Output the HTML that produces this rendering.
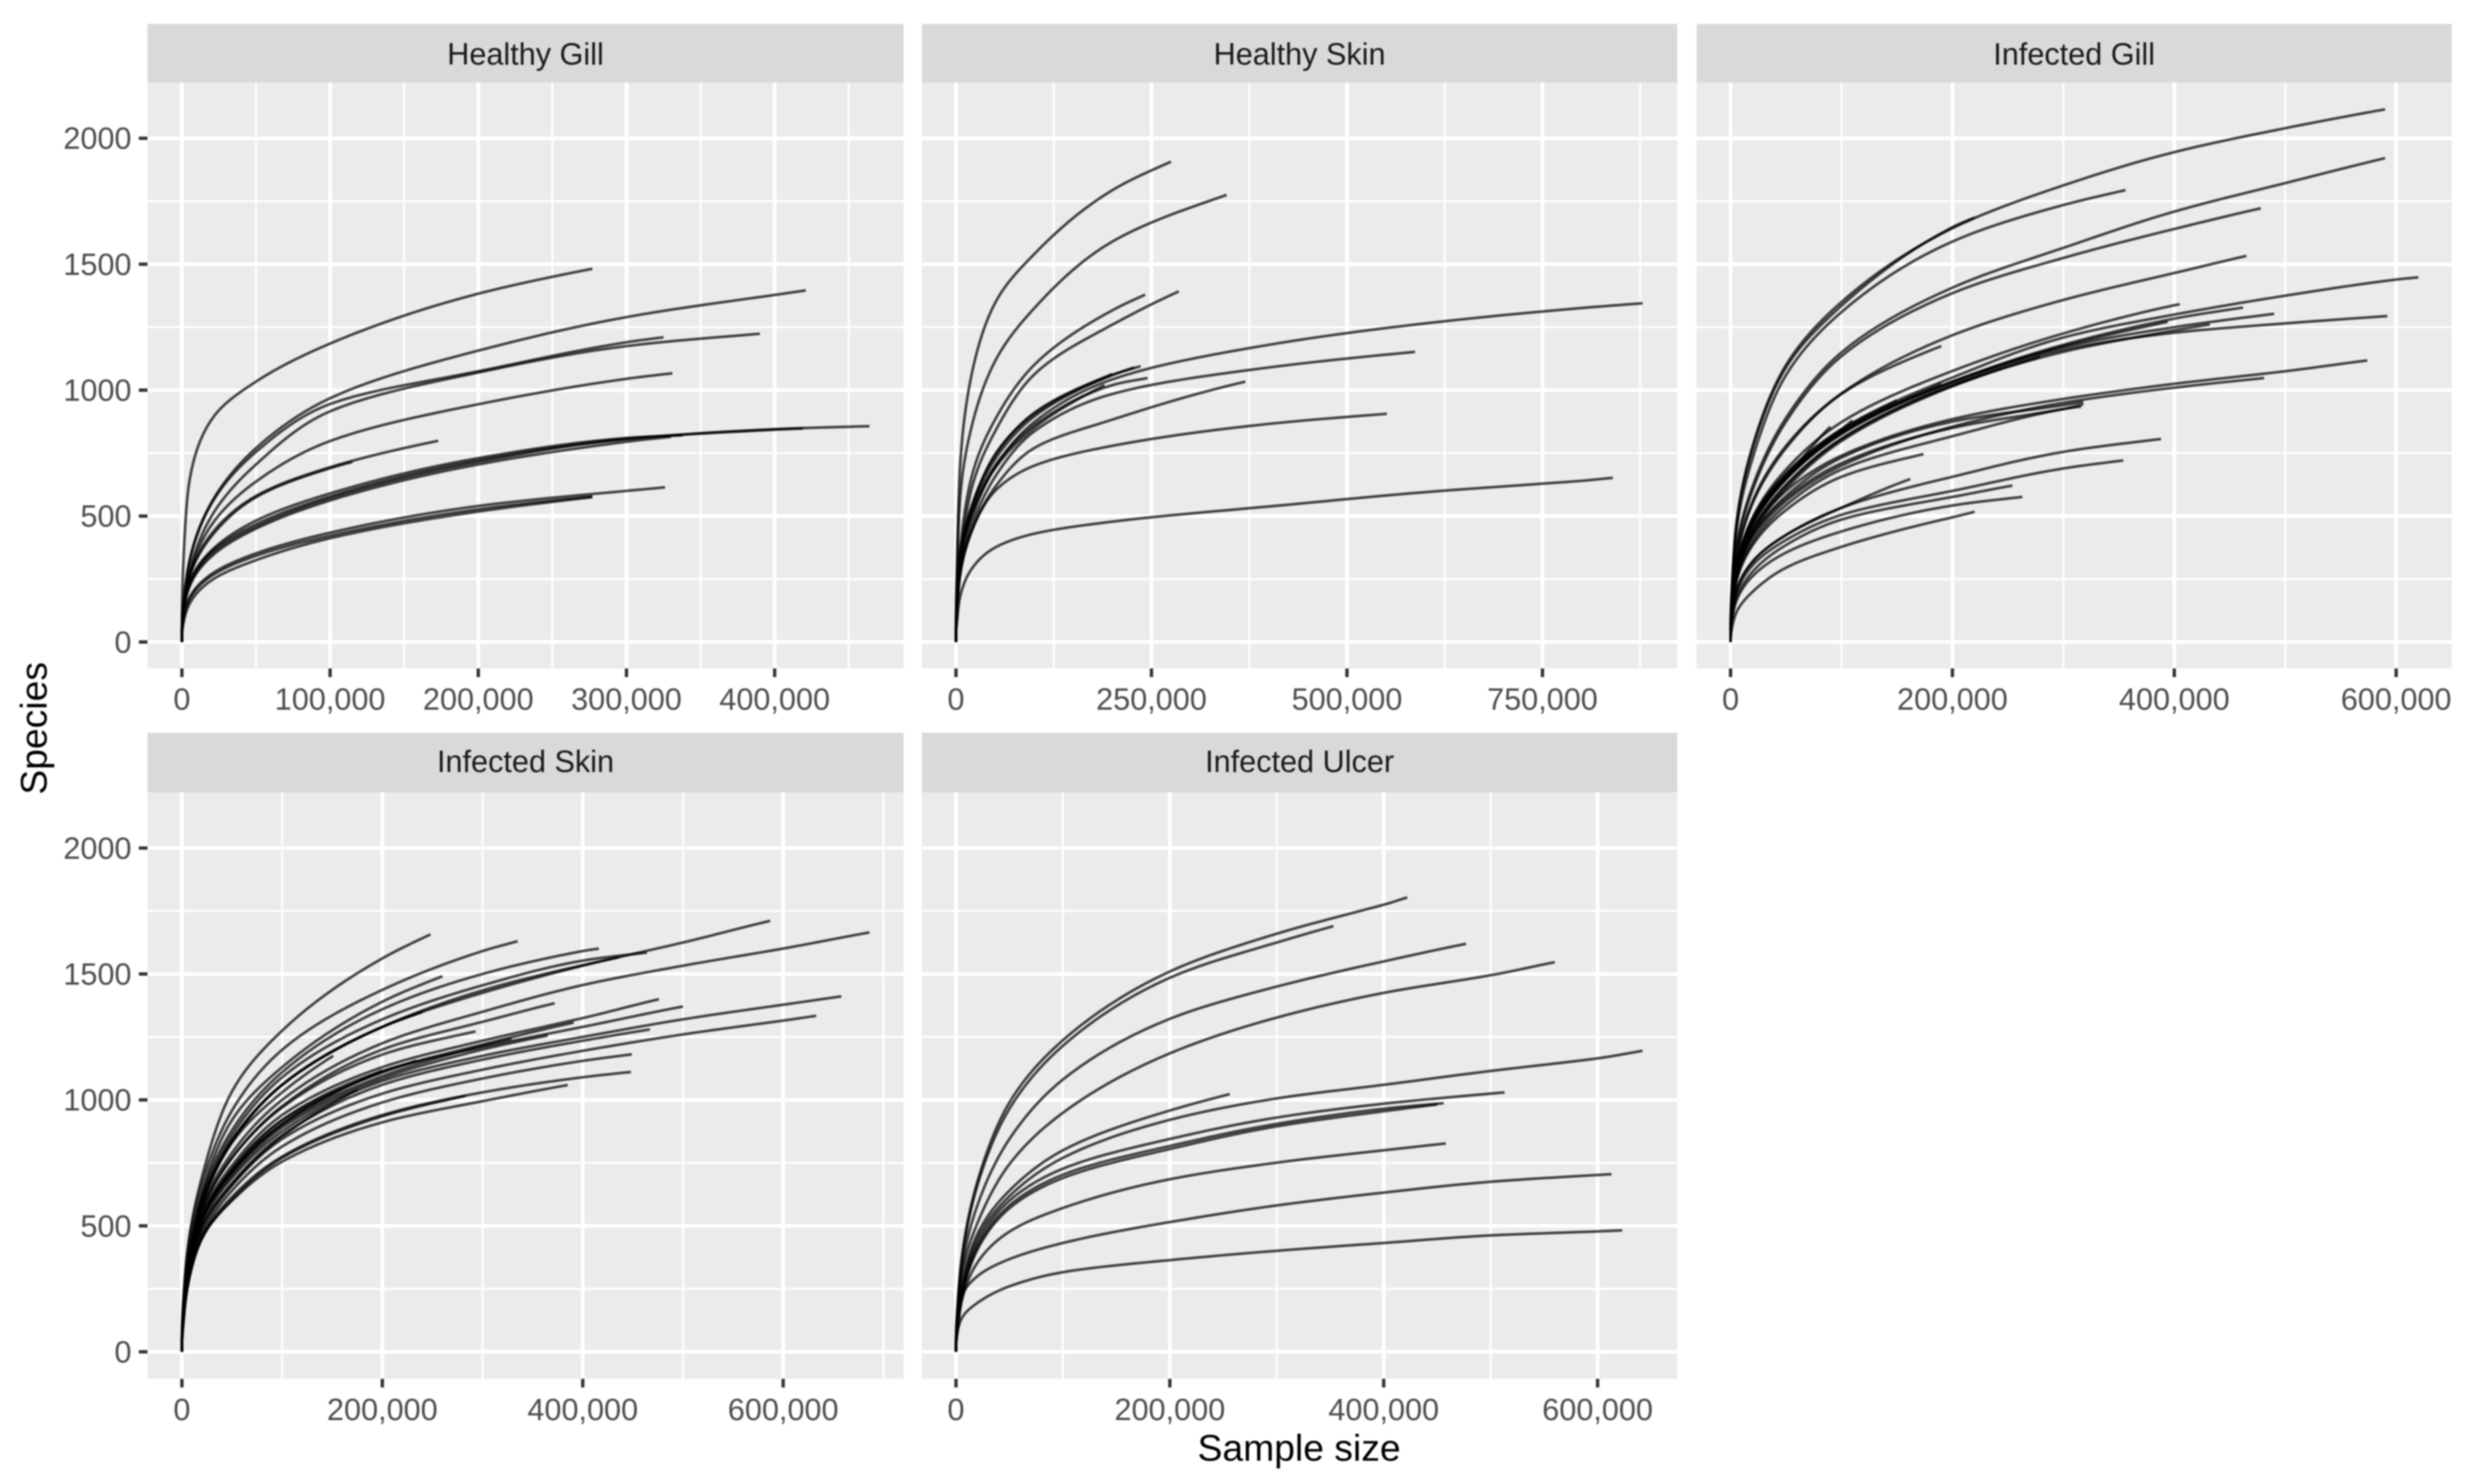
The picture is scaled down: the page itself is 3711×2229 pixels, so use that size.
<!DOCTYPE html>
<html lang="en">
<head>
<meta charset="utf-8">
<title>Rarefaction curves by sample type</title>
<style>
html,body{margin:0;padding:0;background:#fff;width:3711px;height:2229px;overflow:hidden}
svg{display:block;filter:blur(1.1px)}
text{font-family:"Liberation Sans",sans-serif}
</style>
</head>
<body>
<svg id="chart" xmlns="http://www.w3.org/2000/svg" width="3711" height="2229" viewBox="0 0 3711 2229">
<rect width="3711" height="2229" fill="#fff"/>
<text x="1951" y="2194" font-size="56" text-anchor="middle" fill="#000">Sample size</text>
<text transform="translate(70,1094) rotate(-90)" font-size="56" text-anchor="middle" fill="#000">Species</text>
</svg>
<script>
// ---------- shared y axis ----------
const yTickValues = [0, 500, 1000, 1500, 2000];
const yMinorValues = [250, 750, 1250, 1750];

// ---------- Healthy Gill ----------
const hgTicks = [0, 100000, 200000, 300000, 400000];
const hgMinor = [50000, 150000, 250000, 350000, 450000];
const hgGrid = [0, 1000, 5000, 20000, 50000, 100000, 200000, 300000, 400000];
const hgEnds = [277000, 421000, 325000, 390000, 331000, 173000, 115000, 464000, 419000, 338000, 330000, 326000, 277000, 277000];
const hg01 = [0, 320, 637, 883, 1034, 1185, 1383, 1482];
const hg02 = [0, 150, 320, 555, 770, 968, 1157, 1290, 1378, 1396];
const hg03 = [0, 150, 315, 550, 755, 945, 1075, 1190, 1210];
const hg04 = [0, 125, 275, 500, 705, 916, 1070, 1175, 1224];
const hg05 = [0, 125, 265, 465, 637, 798, 944, 1045, 1067];
const hg06 = [0, 125, 258, 430, 580, 694, 799];
const hg07 = [0, 125, 255, 420, 575, 690, 715];
const hg08 = [0, 120, 225, 350, 458, 571, 715, 805, 845, 857];
const hg09 = [0, 122, 230, 358, 468, 578, 722, 807, 843, 848];
const hg10 = [0, 125, 235, 364, 482, 590, 730, 810, 821];
const hg11 = [0, 115, 218, 340, 450, 562, 705, 795, 815];
const hg12 = [0, 95, 175, 270, 352, 434, 540, 600, 614];
const hg13 = [0, 90, 168, 262, 342, 422, 527, 578];
const hg14 = [0, 75, 150, 245, 325, 412, 518, 575];
const hgSeries = [hg01, hg02, hg03, hg04, hg05, hg06, hg07, hg08, hg09, hg10, hg11, hg12, hg13, hg14];

// ---------- Healthy Skin ----------
const hsTicks = [0, 250000, 500000, 750000];
const hsMinor = [125000, 375000, 625000, 875000];
const hsGrid = [0, 1000, 5000, 20000, 50000, 100000, 200000, 400000, 600000, 800000];
const hsEnds = [275000, 346000, 242000, 285000, 878000, 587000, 370000, 551000, 840000, 236000, 245000, 200000, 190000, 228000];
const hs01 = [0, 260, 685, 1062, 1346, 1540, 1794, 1907];
const hs02 = [0, 220, 560, 855, 1115, 1325, 1590, 1775];
const hs03 = [0, 140, 354, 656, 883, 1100, 1317, 1379];
const hs04 = [0, 130, 307, 609, 836, 1062, 1260, 1392];
const hs05 = [0, 120, 278, 486, 694, 873, 1043, 1180, 1265, 1326, 1345];
const hs06 = [0, 110, 269, 458, 656, 836, 985, 1090, 1152];
const hs07 = [0, 105, 260, 439, 615, 770, 883, 1034];
const hs08 = [0, 110, 260, 440, 600, 700, 779, 866, 906];
const hs09 = [0, 70, 175, 290, 375, 430, 478, 538, 595, 640, 652];
const hs10 = [0, 120, 320, 530, 745, 905, 1060, 1095];
const hs11 = [0, 110, 310, 510, 700, 860, 1020, 1048];
const hs12 = [0, 125, 340, 540, 740, 910, 1064];
const hs13 = [0, 110, 310, 505, 690, 850, 1020];
const hs14 = [0, 120, 325, 530, 725, 895, 1060, 1090];
const hsSeries = [hs01, hs02, hs03, hs04, hs05, hs06, hs07, hs08, hs09, hs10, hs11, hs12, hs13, hs14];

// ---------- Infected Gill ----------
const igTicks = [0, 200000, 400000, 600000];
const igMinor = [100000, 300000, 500000];
const igGrid = [0, 1000, 5000, 20000, 50000, 100000, 200000, 300000, 400000, 500000, 600000];
const igEnds = [590000, 220000, 356000, 590000, 478000, 465000, 190000, 620000, 405000, 462000, 490000, 592000, 394000, 432000, 279000, 90000, 481000, 574000, 318000, 316000, 318000, 174000, 388000, 354000, 162000, 254000, 263000, 220000, 190000, 150000, 110000];
const ig01 = [0, 200, 460, 780, 1100, 1350, 1643, 1813, 1945, 2040, 2115];
const ig02 = [0, 190, 450, 770, 1090, 1335, 1647, 1685];
const ig03 = [0, 180, 430, 732, 1060, 1310, 1590, 1735, 1794];
const ig04 = [0, 160, 365, 620, 890, 1150, 1407, 1565, 1709, 1822, 1921];
const ig05 = [0, 155, 355, 605, 875, 1135, 1385, 1525, 1640, 1722];
const ig06 = [0, 150, 325, 560, 779, 987, 1218, 1358, 1465, 1533];
const ig07 = [0, 150, 320, 552, 770, 985, 1175];
const ig08 = [0, 130, 290, 490, 670, 845, 1050, 1209, 1300, 1375, 1439, 1448];
const ig09 = [0, 135, 290, 495, 685, 873, 1076, 1225, 1337, 1341];
const ig10 = [0, 130, 280, 475, 656, 836, 1034, 1180, 1284, 1328];
const ig11 = [0, 128, 275, 468, 645, 825, 1030, 1170, 1250, 1303];
const ig12 = [0, 125, 268, 450, 625, 808, 1020, 1160, 1228, 1265, 1294];
const ig13 = [0, 128, 278, 472, 650, 830, 1034, 1175, 1271];
const ig14 = [0, 122, 262, 445, 620, 805, 1018, 1152, 1237, 1261];
const ig15 = [0, 120, 255, 435, 609, 798, 1015, 1133];
const ig16 = [0, 128, 278, 472, 650, 855];
const ig17 = [0, 120, 250, 410, 560, 700, 855, 950, 1010, 1048];
const ig18 = [0, 128, 270, 440, 600, 740, 885, 965, 1025, 1075, 1118];
const ig19 = [0, 122, 260, 425, 570, 710, 850, 925, 944];
const ig20 = [0, 112, 240, 395, 543, 685, 817, 925, 935];
const ig21 = [0, 122, 258, 425, 580, 732, 875, 940, 954];
const ig22 = [0, 110, 235, 385, 524, 656, 746];
const ig23 = [0, 100, 200, 320, 425, 533, 656, 755, 806];
const ig24 = [0, 95, 190, 305, 405, 505, 600, 689, 721];
const ig25 = [0, 100, 200, 320, 425, 533, 647];
const ig26 = [0, 85, 170, 280, 385, 486, 576, 621];
const ig27 = [0, 80, 160, 262, 355, 439, 542, 576];
const ig28 = [0, 50, 115, 200, 295, 378, 495, 517];
const ig29 = [0, 130, 280, 475, 650, 830, 1025];
const ig30 = [0, 130, 285, 482, 660, 840, 960];
const ig31 = [0, 132, 290, 490, 665, 845, 880];
const igSeries = [ig01, ig02, ig03, ig04, ig05, ig06, ig07, ig08, ig09, ig10, ig11, ig12, ig13, ig14, ig15, ig16, ig17, ig18, ig19, ig20, ig21, ig22, ig23, ig24, ig25, ig26, ig27, ig28, ig29, ig30, ig31];

// ---------- Infected Skin ----------
const isTicks = [0, 200000, 400000, 600000];
const isMinor = [100000, 300000, 500000, 700000];
const isGrid = [0, 1000, 5000, 20000, 50000, 100000, 200000, 300000, 400000, 500000, 600000];
const isEnds = [248000, 335000, 260000, 587000, 416000, 464000, 436000, 686000, 372000, 476000, 504000, 391000, 365000, 658000, 633000, 467000, 449000, 448000, 385000, 283000, 240000, 234000, 175000, 293000, 151000, 204000, 329000];
const is01 = [0, 170, 385, 694, 1034, 1275, 1562, 1657];
const is02 = [0, 165, 370, 666, 958, 1199, 1437, 1591, 1630];
const is03 = [0, 130, 320, 630, 920, 1130, 1390, 1491];
const is04 = [0, 120, 305, 590, 835, 1060, 1290, 1425, 1533, 1625, 1711];
const is05 = [0, 125, 315, 620, 880, 1110, 1360, 1500, 1591, 1601];
const is06 = [0, 120, 310, 605, 860, 1090, 1320, 1455, 1553, 1585];
const is07 = [0, 120, 305, 595, 840, 1060, 1290, 1435, 1535, 1566];
const is08 = [0, 115, 290, 570, 790, 1000, 1225, 1350, 1456, 1533, 1601, 1665];
const is09 = [0, 115, 290, 560, 770, 975, 1200, 1310, 1384];
const is10 = [0, 110, 285, 545, 740, 940, 1130, 1235, 1325, 1400];
const is11 = [0, 110, 280, 535, 725, 920, 1115, 1210, 1290, 1371];
const is12 = [0, 110, 280, 530, 715, 905, 1110, 1220, 1307];
const is13 = [0, 110, 275, 520, 700, 890, 1085, 1200, 1256];
const is14 = [0, 105, 270, 510, 690, 875, 1075, 1175, 1250, 1320, 1378, 1411];
const is15 = [0, 105, 265, 480, 660, 845, 1025, 1120, 1195, 1260, 1315, 1334];
const is16 = [0, 105, 270, 495, 670, 860, 1060, 1160, 1235, 1280];
const is17 = [0, 100, 255, 465, 640, 815, 990, 1085, 1155, 1181];
const is18 = [0, 95, 248, 455, 615, 775, 940, 1030, 1090, 1111];
const is19 = [0, 95, 241, 449, 600, 755, 911, 995, 1059];
const is20 = [0, 95, 245, 452, 605, 770, 935, 1016];
const is21 = [0, 120, 305, 595, 840, 1060, 1290, 1349];
const is22 = [0, 110, 280, 530, 725, 920, 1110, 1156];
const is23 = [0, 105, 270, 495, 665, 855, 1040];
const is24 = [0, 115, 290, 560, 770, 970, 1180, 1272];
const is25 = [0, 115, 300, 580, 830, 1030, 1175];
const is26 = [0, 110, 280, 530, 715, 905, 1117];
const is27 = [0, 110, 280, 525, 710, 900, 1095, 1215, 1243];
const isSeries = [is01, is02, is03, is04, is05, is06, is07, is08, is09, is10, is11, is12, is13, is14, is15, is16, is17, is18, is19, is20, is21, is22, is23, is24, is25, is26, is27];

// ---------- Infected Ulcer ----------
const iuTicks = [0, 200000, 400000, 600000];
const iuMinor = [100000, 300000, 500000];
const iuGrid = [0, 1000, 5000, 20000, 50000, 100000, 200000, 300000, 400000, 500000, 600000];
const iuEnds = [422000, 353000, 477000, 560000, 642000, 256000, 513000, 456000, 450000, 458000, 613000, 623000];
const iu01 = [0, 150, 360, 675, 990, 1237, 1510, 1660, 1775, 1804];
const iu02 = [0, 140, 345, 660, 965, 1215, 1485, 1625, 1690];
const iu03 = [0, 110, 316, 581, 845, 1081, 1322, 1450, 1550, 1620];
const iu04 = [0, 115, 295, 510, 745, 949, 1185, 1327, 1425, 1495, 1547];
const iu05 = [0, 85, 231, 449, 618, 770, 921, 1006, 1060, 1115, 1165, 1195];
const iu06 = [0, 90, 250, 467, 640, 800, 958, 1023];
const iu07 = [0, 80, 222, 430, 600, 727, 845, 930, 985, 1025, 1030];
const iu08 = [0, 78, 212, 415, 581, 703, 817, 905, 965, 987];
const iu09 = [0, 75, 205, 405, 570, 690, 805, 895, 955, 982];
const iu10 = [0, 65, 194, 354, 477, 571, 685, 751, 800, 827];
const iu11 = [0, 110, 215, 300, 368, 432, 515, 581, 632, 675, 702, 705];
const iu12 = [0, 70, 130, 194, 260, 316, 364, 401, 432, 462, 478, 482];
const iuSeries = [iu01, iu02, iu03, iu04, iu05, iu06, iu07, iu08, iu09, iu10, iu11, iu12];

// ---------- layout ----------
const row1 = {top: 36, stripBottom: 124, bottom: 1004, zero: 964.3, labelDy: 17};
const row2 = {top: 1100.5, stripBottom: 1190, bottom: 2071, zero: 2030.4, labelDy: 14};
const yPxPerUnit = 0.3783;
const warpPower = 0.35;

const facets = [
  {key: 'healthy-gill', title: 'Healthy Gill', left: 221.5, right: 1357, x0: 273.2, pxPerUnit: 222.55 / 100000, row: row1, yLabels: true, ticks: hgTicks, minor: hgMinor, grid: hgGrid, ends: hgEnds, series: hgSeries},
  {key: 'healthy-skin', title: 'Healthy Skin', left: 1384.5, right: 2519, x0: 1435.7, pxPerUnit: 293.6 / 250000, row: row1, yLabels: false, ticks: hsTicks, minor: hsMinor, grid: hsGrid, ends: hsEnds, series: hsSeries},
  {key: 'infected-gill', title: 'Infected Gill', left: 2548, right: 3682, x0: 2599, pxPerUnit: 333.2 / 200000, row: row1, yLabels: false, ticks: igTicks, minor: igMinor, grid: igGrid, ends: igEnds, series: igSeries},
  {key: 'infected-skin', title: 'Infected Skin', left: 221.5, right: 1357, x0: 273.2, pxPerUnit: 150.5 / 100000, row: row2, yLabels: true, ticks: isTicks, minor: isMinor, grid: isGrid, ends: isEnds, series: isSeries},
  {key: 'infected-ulcer', title: 'Infected Ulcer', left: 1384.5, right: 2519, x0: 1435.7, pxPerUnit: 160.6 / 100000, row: row2, yLabels: false, ticks: iuTicks, minor: iuMinor, grid: iuGrid, ends: iuEnds, series: iuSeries}
];

const NS = 'http://www.w3.org/2000/svg';
const chart = document.getElementById('chart');

function make(tag, parent, attrs, content) {
  const el = document.createElementNS(NS, tag);
  for (const k in attrs) el.setAttribute(k, attrs[k]);
  if (content !== undefined) el.textContent = content;
  parent.appendChild(el);
  return el;
}

// Monotone Hermite spline through the read points, taken in a warped
// sample-size coordinate so the steep start of each curve stays smooth.
function curvePath(xs, ys, xScale, yScale) {
  const n = xs.length;
  const u = xs.map(function (x) { return Math.pow(x, warpPower); });
  const d = [];
  for (let i = 0; i < n - 1; i++) d.push((ys[i + 1] - ys[i]) / (u[i + 1] - u[i]));
  const m = new Array(n);
  m[0] = d[0];
  m[n - 1] = d[n - 2];
  for (let i = 1; i < n - 1; i++) {
    const h0 = u[i] - u[i - 1];
    const h1 = u[i + 1] - u[i];
    m[i] = d[i - 1] * d[i] <= 0 ? 0 : (h0 + h1) * 3 * d[i - 1] * d[i] / ((2 * h1 + h0) * d[i - 1] + (h1 + 2 * h0) * d[i]);
  }
  let s = 'M' + xScale(xs[0]).toFixed(2) + ',' + yScale(ys[0]).toFixed(2);
  for (let i = 0; i < n - 1; i++) {
    const h = u[i + 1] - u[i];
    for (let k = 1; k <= 10; k++) {
      const t = k / 10;
      const t2 = t * t;
      const t3 = t2 * t;
      const y = (2 * t3 - 3 * t2 + 1) * ys[i] + (t3 - 2 * t2 + t) * h * m[i] + (-2 * t3 + 3 * t2) * ys[i + 1] + (t3 - t2) * h * m[i + 1];
      const x = Math.pow(u[i] + t * h, 1 / warpPower);
      s += 'L' + xScale(x).toFixed(2) + ',' + yScale(y).toFixed(2);
    }
  }
  return s;
}

facets.forEach(function (f) {
  const xScale = function (v) { return f.x0 + v * f.pxPerUnit; };
  const yScale = function (v) { return f.row.zero - v * yPxPerUnit; };

  const g = make('g', chart, {});
  
  

  const strip = make('rect', g, {x: f.left, y: f.row.top, width: f.right - f.left, height: f.row.stripBottom - f.row.top, fill: '#D9D9D9'});
  
  

  const stripLabel = make('text', g, {x: (f.left + f.right) / 2, y: (f.row.top + f.row.stripBottom) / 2 + f.row.labelDy, 'font-size': 46, 'text-anchor': 'middle', fill: '#1A1A1A'}, f.title);
  
  

  const panel = make('rect', g, {x: f.left, y: f.row.stripBottom, width: f.right - f.left, height: f.row.bottom - f.row.stripBottom, fill: '#EBEBEB'});
  
  

  yMinorValues.forEach(function (v) {
    const l = make('line', g, {x1: f.left, x2: f.right, y1: yScale(v), y2: yScale(v), stroke: '#fff', 'stroke-width': 3});
    
    
  });
  f.minor.forEach(function (v) {
    const l = make('line', g, {x1: xScale(v), x2: xScale(v), y1: f.row.stripBottom, y2: f.row.bottom, stroke: '#fff', 'stroke-width': 3});
    
    
  });
  yTickValues.forEach(function (v) {
    const l = make('line', g, {x1: f.left, x2: f.right, y1: yScale(v), y2: yScale(v), stroke: '#fff', 'stroke-width': 5.5});
    
    
  });
  f.ticks.forEach(function (v) {
    const l = make('line', g, {x1: xScale(v), x2: xScale(v), y1: f.row.stripBottom, y2: f.row.bottom, stroke: '#fff', 'stroke-width': 5.5});
    
    
  });

  f.series.forEach(function (ys, i) {
    const xs = f.grid.filter(function (v) { return v < f.ends[i]; }).concat([f.ends[i]]);
    const n = Math.min(xs.length, ys.length);
    const path = make('path', g, {
      d: curvePath(xs.slice(0, n), ys.slice(0, n), xScale, yScale),
      fill: 'none', stroke: '#000', 'stroke-width': 4, 'stroke-opacity': 0.72, 'stroke-linejoin': 'round'
    });
    
    
  });

  f.ticks.forEach(function (v) {
    const t = make('line', g, {x1: xScale(v), x2: xScale(v), y1: f.row.bottom, y2: f.row.bottom + 13, stroke: '#333', 'stroke-width': 5});
    
    
    const label = make('text', g, {x: xScale(v), y: f.row.bottom + 62, 'font-size': 46, 'text-anchor': 'middle', fill: '#4D4D4D'}, v.toLocaleString('en-US'));
    
    
  });

  if (f.yLabels) {
    yTickValues.forEach(function (v) {
      const t = make('line', g, {x1: f.left - 13, x2: f.left, y1: yScale(v), y2: yScale(v), stroke: '#333', 'stroke-width': 5});
      
      
      const label = make('text', g, {x: f.left - 24, y: yScale(v) + 16, 'font-size': 46, 'text-anchor': 'end', fill: '#4D4D4D'}, String(v));
      
      
    });
  }
});
</script>
</body>
</html>
